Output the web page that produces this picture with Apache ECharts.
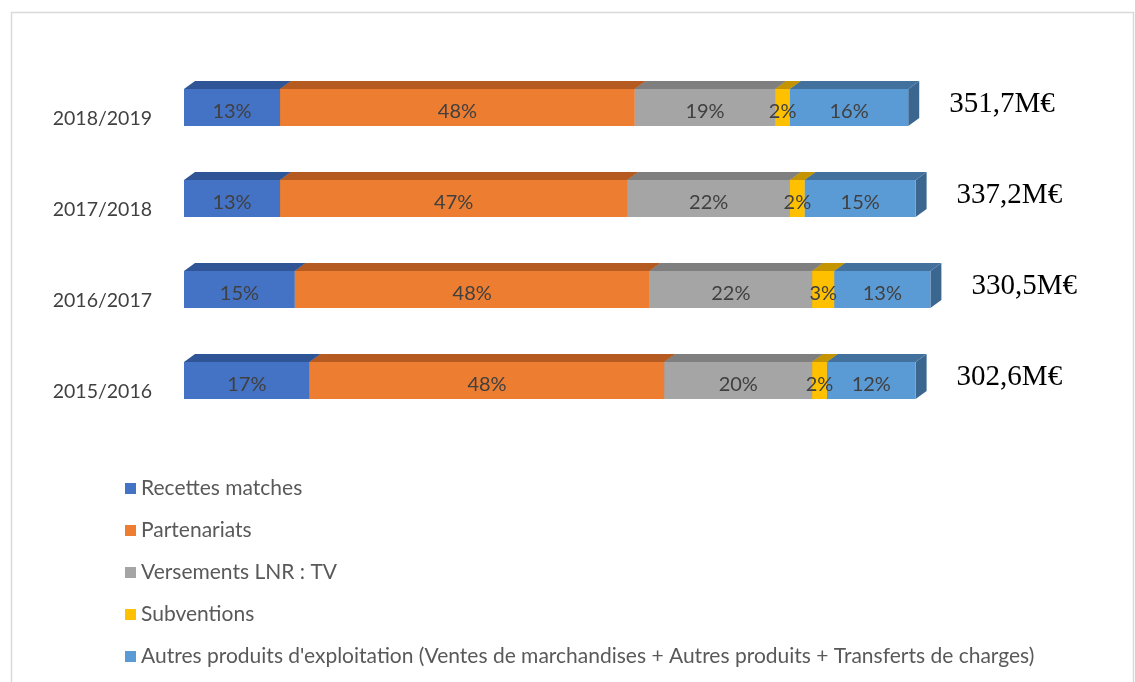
<!DOCTYPE html>
<html>
<head>
<meta charset="utf-8">
<script src="https://cdn.jsdelivr.net/npm/echarts@6/dist/echarts.min.js"></script>
<style>
  html, body { margin: 0; padding: 0; background: #fff; }
  #chart { width: 1135px; height: 682px; }
</style>
</head>
<body>
<div id="chart"></div>
<script>
    // saisons, de haut en bas
    var seasons = ['2018/2019', '2017/2018', '2016/2017', '2015/2016'];
    var seriesNames = ['Recettes matches', 'Partenariats', 'Versements LNR : TV', 'Subventions',
        "Autres produits d'exploitation (Ventes de marchandises + Autres produits + Transferts de charges)"];
    var recettes = [13, 13, 15, 17];
    var partenariats = [48, 47, 48, 48];
    var versementsTV = [19, 22, 22, 20];
    var subventions = [2, 2, 3, 2];
    var autres = [16, 15, 13, 12];
    var totals = ['351,7M€', '337,2M€', '330,5M€', '302,6M€'];

    var colors = ['#4472C4', '#ED7D31', '#A5A5A5', '#FFC000', '#5B9BD5'];
    var topColors = ['#2F5597', '#B55A21', '#7F7F7F', '#C49500', '#41719C'];
    var sideColors = ['#2A4D88', '#A3511E', '#727272', '#B08600', '#3A6690'];

    var DX = 11, DY = 8, H = 37, SHIFT = -11;

    var values = [recettes, partenariats, versementsTV, subventions, autres];
    var cum = seasons.map(function () { return 0; });

    function makeSeries(k) {
        var data = seasons.map(function (s, i) {
            var start = cum[i];
            cum[i] += values[k][i];
            return [start, cum[i], i, values[k][i]];
        });
        return {
            name: seriesNames[k],
            type: 'custom',
            itemStyle: { color: colors[k] },
            data: data,
            renderItem: function (params, api) {
                var cat = api.value(2);
                var p0 = api.coord([api.value(0), cat]);
                var p1 = api.coord([api.value(1), cat]);
                var x0 = p0[0], x1 = p1[0];
                var cy = p0[1] + SHIFT;
                var top = cy - H / 2, bottom = cy + H / 2;
                return {
                    type: 'group',
                    children: [{
                        type: 'polygon',
                        shape: { points: [[x1, top], [x1 + DX, top - DY], [x1 + DX, bottom - DY], [x1, bottom]] },
                        style: { fill: sideColors[k] }
                    }, {
                        type: 'polygon',
                        shape: { points: [[x0, top], [x0 + DX, top - DY], [x1 + DX, top - DY], [x1, top]] },
                        style: { fill: topColors[k] }
                    }, {
                        type: 'rect',
                        shape: { x: x0, y: top, width: x1 - x0, height: H },
                        style: { fill: colors[k] }
                    }, {
                        type: 'text',
                        z2: 100,
                        style: {
                            x: (x0 + x1) / 2, y: cy + 4,
                            text: api.value(3) + '%',
                            align: 'center', verticalAlign: 'middle',
                            fill: '#404040', font: '20px Lato'
                        }
                    }]
                };
            }
        };
    }

    var series = [];
    for (var k = 0; k < values.length; k++) series.push(makeSeries(k));

    // montants totaux a droite des barres
    series.push({
        type: 'custom',
        name: 'totaux',
        data: seasons.map(function (s, i) { return [cum[i], i]; }),
        renderItem: function (params, api) {
            var p = api.coord([api.value(0), api.value(1)]);
            return {
                type: 'text',
                style: {
                    x: p[0] + DX + 30, y: p[1] + SHIFT - 3,
                    text: totals[params.dataIndex],
                    align: 'left', verticalAlign: 'middle',
                    fill: '#000', font: '29px "Liberation Serif"'
                }
            };
        }
    });

    var chart = echarts.init(document.getElementById('chart'));
    chart.setOption({
        animation: false,
        graphic: [{
            type: 'rect',
            shape: { x: 11.5, y: 12.5, width: 1122, height: 720 },
            style: { fill: 'none', stroke: '#D9D9D9', lineWidth: 1.5 }
        }],
        grid: { left: 184, top: 73, width: 739, height: 364 },
        xAxis: {
            type: 'value', min: 0, max: 100,
            show: false
        },
        yAxis: {
            type: 'category', inverse: true, data: seasons,
            axisLine: { show: false }, axisTick: { show: false },
            axisLabel: { margin: 32, color: '#404040', fontFamily: 'Lato', fontSize: 19.5 }
        },
        legend: {
            orient: 'vertical', left: 120, top: 473, height: 260,
            data: seriesNames,
            icon: 'rect', itemWidth: 11, itemHeight: 11, itemGap: 21,
            textStyle: { color: '#595959', fontFamily: 'Lato', fontSize: 21, lineHeight: 21 }
        },
        series: series
    });
</script>
</body>
</html>
